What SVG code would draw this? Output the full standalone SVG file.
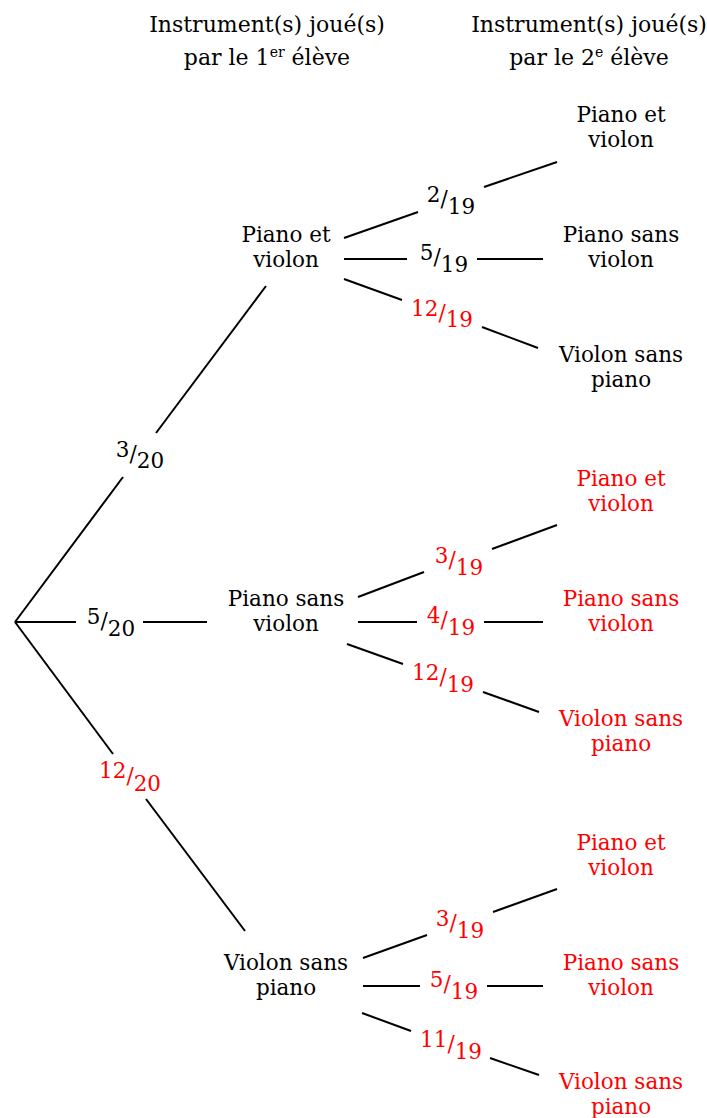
<svg xmlns="http://www.w3.org/2000/svg" width="707" height="1118" viewBox="0 0 707 1118">
<style>
text{font-family:"DejaVu Serif","Liberation Serif",serif;font-size:21.5px;fill:#000;text-anchor:middle}
.h{font-size:22px}
.r{fill:#ff0000}
#connectors line{stroke:#000;stroke-width:2;stroke-linecap:butt}
</style>
<rect width="707" height="1118" fill="#fff"/>
<g id="headers">
<text class="h" x="267" y="32">Instrument(s) joué(s)</text>
<text class="h" x="267" y="65">par le 1<tspan dy="-8" font-size="14">er</tspan><tspan dy="8"> élève</tspan></text>
<text class="h" x="589" y="32">Instrument(s) joué(s)</text>
<text class="h" x="589" y="65">par le 2<tspan dy="-8" font-size="14">e</tspan><tspan dy="8"> élève</tspan></text>
</g>
<g id="connectors">
<line x1="15" y1="622" x2="123" y2="477"/>
<line x1="156" y1="433" x2="266" y2="286"/>
<line x1="15" y1="622" x2="76" y2="622"/>
<line x1="143" y1="622" x2="207" y2="622"/>
<line x1="15" y1="622" x2="113" y2="754"/>
<line x1="146" y1="799" x2="245" y2="931"/>
<line x1="344" y1="238" x2="418" y2="212"/>
<line x1="484" y1="187" x2="557" y2="162"/>
<line x1="344" y1="259" x2="407" y2="259"/>
<line x1="477" y1="259" x2="543" y2="259"/>
<line x1="344" y1="279" x2="402" y2="300"/>
<line x1="482" y1="327" x2="538" y2="348"/>
<line x1="358" y1="597" x2="424" y2="572"/>
<line x1="492" y1="549" x2="557" y2="525"/>
<line x1="358" y1="622" x2="417" y2="622"/>
<line x1="484" y1="622" x2="543" y2="622"/>
<line x1="347" y1="644" x2="403" y2="664"/>
<line x1="483" y1="692" x2="539" y2="712"/>
<line x1="363" y1="958" x2="427" y2="935"/>
<line x1="493" y1="912" x2="557" y2="889"/>
<line x1="363" y1="986" x2="420" y2="986"/>
<line x1="487" y1="986" x2="543" y2="986"/>
<line x1="362" y1="1013" x2="411" y2="1031"/>
<line x1="490" y1="1058" x2="539" y2="1075"/>
</g>
<g id="labels">
<text x="140" y="457">3<tspan dy="4">/</tspan><tspan dy="7">20</tspan></text>
<text x="111" y="624">5<tspan dy="4">/</tspan><tspan dy="8">20</tspan></text>
<text class="r" x="130" y="778">12<tspan dy="5">/</tspan><tspan dy="8">20</tspan></text>
<text x="451" y="202">2<tspan dy="4">/</tspan><tspan dy="8">19</tspan></text>
<text x="444" y="260">5<tspan dy="4">/</tspan><tspan dy="8">19</tspan></text>
<text class="r" x="442" y="316">12<tspan dy="4">/</tspan><tspan dy="7">19</tspan></text>
<text class="r" x="459" y="563">3<tspan dy="4">/</tspan><tspan dy="8">19</tspan></text>
<text class="r" x="451" y="623">4<tspan dy="4">/</tspan><tspan dy="8">19</tspan></text>
<text class="r" x="443" y="680">12<tspan dy="4">/</tspan><tspan dy="8">19</tspan></text>
<text class="r" x="460" y="926">3<tspan dy="4">/</tspan><tspan dy="8">19</tspan></text>
<text class="r" x="454" y="987">5<tspan dy="4">/</tspan><tspan dy="8">19</tspan></text>
<text class="r" x="451" y="1047">11<tspan dy="4">/</tspan><tspan dy="8">19</tspan></text>
</g>
<g id="n1"><text x="286" y="242">Piano et</text><text x="286" y="267">violon</text></g>
<g id="n2"><text x="286" y="606">Piano sans</text><text x="286" y="631">violon</text></g>
<g id="n3"><text x="286" y="970">Violon sans</text><text x="286" y="995">piano</text></g>
<g id="n1a"><text x="621" y="122">Piano et</text><text x="621" y="147">violon</text></g>
<g id="n1b"><text x="621" y="242">Piano sans</text><text x="621" y="267">violon</text></g>
<g id="n1c"><text x="621" y="362">Violon sans</text><text x="621" y="387">piano</text></g>
<g id="n2a"><text class="r" x="621" y="486">Piano et</text><text class="r" x="621" y="511">violon</text></g>
<g id="n2b"><text class="r" x="621" y="606">Piano sans</text><text class="r" x="621" y="631">violon</text></g>
<g id="n2c"><text class="r" x="621" y="726">Violon sans</text><text class="r" x="621" y="751">piano</text></g>
<g id="n3a"><text class="r" x="621" y="850">Piano et</text><text class="r" x="621" y="875">violon</text></g>
<g id="n3b"><text class="r" x="621" y="970">Piano sans</text><text class="r" x="621" y="995">violon</text></g>
<g id="n3c"><text class="r" x="621" y="1089">Violon sans</text><text class="r" x="621" y="1114">piano</text></g>
</svg>
